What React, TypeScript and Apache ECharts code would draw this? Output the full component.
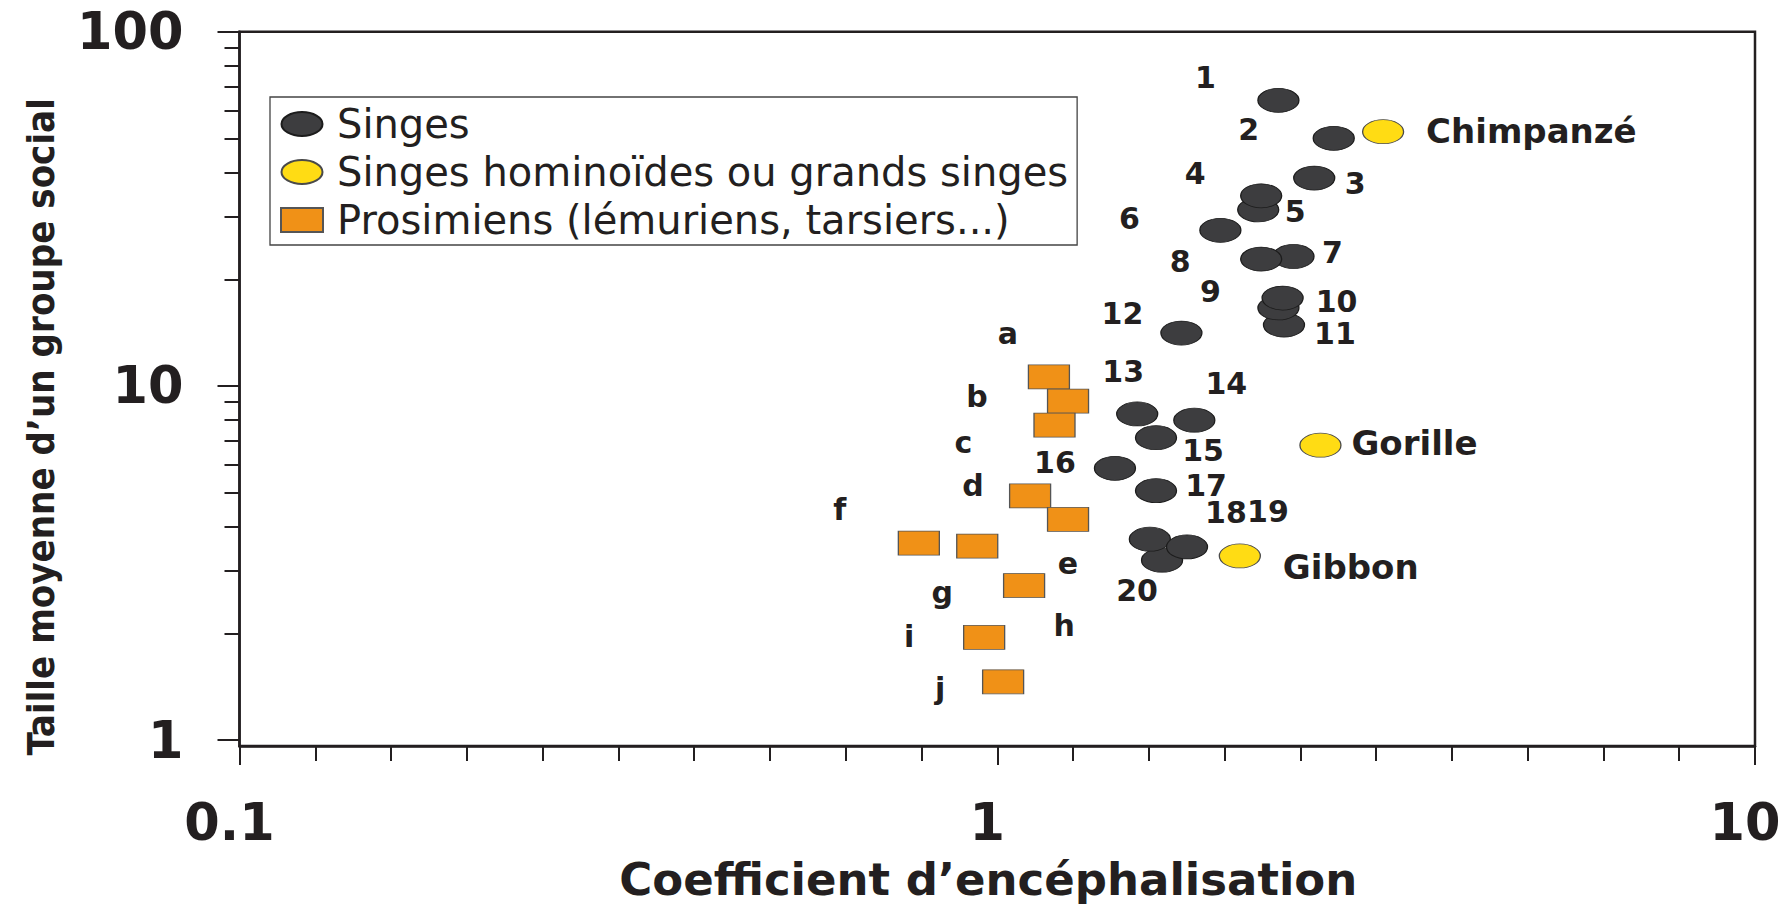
import React, { useEffect, useRef } from 'react';
import * as echarts from 'echarts';

// ---- Data ----
// Singes (monkeys), listed in drawing order
const singesNames = ['1', '2', '3', '5', '4', '6', '7', '8', '11', '9', '10', '12', '13', '14', '15', '16', '17', '20', '18', '19'];
const singesX = [2.35, 2.78, 2.62, 2.21, 2.23, 1.97, 2.46, 2.23, 2.39, 2.35, 2.38, 1.75, 1.53, 1.82, 1.62, 1.43, 1.62, 1.65, 1.59, 1.78];
const singesY = [64, 50, 38.6, 31.4, 34.4, 27.5, 23.2, 22.8, 14.85, 16.6, 17.7, 14.1, 8.33, 8.0, 7.14, 5.85, 5.06, 3.22, 3.69, 3.51];

// Singes hominoïdes ou grands singes (apes)
const apesNames = ['Chimpanzé', 'Gorille', 'Gibbon'];
const apesX = [3.23, 2.67, 2.09];
const apesY = [52.2, 6.8, 3.31];

// Prosimiens
const prosNames = ['a', 'b', 'c', 'd', 'e', 'f', 'g', 'h', 'i', 'j'];
const prosX = [1.17, 1.24, 1.19, 1.105, 1.24, 0.788, 0.941, 1.085, 0.961, 1.018];
const prosY = [10.6, 9.06, 7.75, 4.89, 4.2, 3.6, 3.53, 2.73, 1.95, 1.46];

const seriesNames = ['Singes', 'Singes hominoïdes ou grands singes', 'Prosimiens (lémuriens, tarsiers...)'];

// Axes
const xMin = 0.1;
const xMax = 10;
const yMin = 0.962; // value at the horizontal axis line (slightly below 1)
const yMax = 100;
const xTickValues = [0.1, 1, 10];
const xTickLabels = ['0.1', '1', '10'];
const xMinorStep = 0.1; // in decades
const yTickValues = [1, 10, 100];
const yTickLabels = ['1', '10', '100'];
const yMinorTickValues = [2, 3, 4, 5, 6, 7, 8, 9, 20, 30, 40, 50, 60, 70, 80, 90];
const xTitle = 'Coefficient d’encéphalisation';
const yTitle = 'Taille moyenne d’un groupe social';

// ---- Label layout (pixel offsets of each point label from its marker) ----
const singesLabelOffsets: Record<string, number[]> = {
  '1': [-73, -23], '2': [-85, -9], '3': [41, 5], '4': [-66, -22], '5': [37, 2],
  '6': [-91, -12], '7': [39, -4], '8': [-81, 2], '9': [-68, -16], '10': [54, 3],
  '11': [51, 8], '12': [-59, -20], '13': [-14, -42], '14': [32, -37], '15': [47, 13],
  '16': [-60, -6], '17': [50, -5], '18': [97, -27], '19': [60, -35], '20': [-25, 30],
};
const singesLabelAlign: Record<string, string> = { '18': 'right', '19': 'left' };
const apesLabelOffsets: Record<string, number[]> = {
  'Chimpanzé': [43, -1], 'Gorille': [31, -2], 'Gibbon': [43, 11],
};
const prosLabelOffsets: Record<string, number[]> = {
  a: [-41, -43], b: [-91, -5], c: [-91, 17], d: [-57, -10], e: [0, 44],
  f: [-79, -34], g: [-35, 46], h: [40, 40], i: [-75, -1], j: [-63, 7],
};

const INK = '#231f20';
const FONT = "'DejaVu Sans', sans-serif";
const ELLIPSE = 'path://M0,12A20.5,12,0,1,1,41,12A20.5,12,0,1,1,0,12Z';

function labelFor(offset: number[], align: string, size: number) {
  return {
    show: true,
    position: 'inside',
    offset,
    align,
    verticalAlign: 'middle',
    color: INK,
    opacity: 1,
    fontFamily: FONT,
    fontWeight: 'bold',
    fontSize: size,
    formatter: '{b}',
  };
}

const log10 = (v: number) => Math.log10(v);

export default function App() {
  const ref = useRef<HTMLDivElement>(null);

  useEffect(() => {
    if (!ref.current) return;
    const chart = echarts.init(ref.current, undefined, { renderer: 'svg' });

    const singesData = singesNames.map((n, i) => ({
      name: n,
      value: [singesX[i], singesY[i]],
      label: labelFor(singesLabelOffsets[n], singesLabelAlign[n] || 'center', 30),
    }));
    const apesData = apesNames.map((n, i) => ({
      name: n,
      value: [apesX[i], apesY[i]],
      label: labelFor(apesLabelOffsets[n], 'left', 34),
    }));
    const prosData = prosNames.map((n, i) => ({
      name: n,
      value: [prosX[i], prosY[i]],
      label: labelFor(prosLabelOffsets[n], 'center', 30),
    }));

    const xLabelOf = (v: number) => {
      const k = xTickValues.findIndex((t) => Math.abs(log10(t) - v) < 1e-6);
      return k >= 0 ? xTickLabels[k] : '';
    };
    const yLabelOf = (v: number) => {
      const k = yTickValues.findIndex((t) => Math.abs(log10(t) - v) < 1e-6);
      return k >= 0 ? yTickLabels[k] : '';
    };

    const axisFont = { color: INK, fontFamily: FONT, fontWeight: 'bold', fontSize: 51 };

    chart.setOption({
      animation: false,
      backgroundColor: '#ffffff',
      grid: {
        left: 239.5,
        right: 32,
        top: 31.7,
        bottom: 159,
        show: true,
        borderColor: INK,
        borderWidth: 2.5,
        outerBoundsMode: 'none',
        containLabel: false,
      },
      legend: {
        data: seriesNames,
        orient: 'vertical',
        left: 270,
        top: 97,
        itemWidth: 42,
        itemHeight: 24,
        itemGap: 8,
        padding: [7, 9, 5, 10],
        borderColor: '#444',
        borderWidth: 1.3,
        backgroundColor: '#ffffff',
        textStyle: { color: INK, fontFamily: FONT, fontSize: 40, padding: [0, 0, 0, 9] },
        selectedMode: false,
      },
      xAxis: [
        { type: 'log', logBase: 10, min: xMin, max: xMax, position: 'bottom', show: false },
        {
          type: 'value',
          min: log10(xMin),
          max: log10(xMax),
          position: 'bottom',
          axisLine: { show: true, onZero: false, lineStyle: { color: INK, width: 2.5 } },
          axisTick: { show: true, customValues: xTickValues.map(log10), length: 19, lineStyle: { color: INK, width: 2 } },
          axisLabel: { show: true, customValues: xTickValues.map(log10), formatter: xLabelOf, margin: 51, padding: [0, 20, 0, 0], ...axisFont },
          splitLine: { show: false },
          name: xTitle,
          nameLocation: 'middle',
          nameGap: 111,
          nameMoveOverlap: false,
          nameTextStyle: { color: INK, fontFamily: FONT, fontWeight: 'bold', fontSize: 45, padding: [0, 18, 0, 0] },
        },
        {
          type: 'value',
          min: log10(xMin),
          max: log10(xMax),
          interval: xMinorStep,
          position: 'bottom',
          axisLine: { show: false, onZero: false },
          axisTick: { show: true, length: 15, lineStyle: { color: INK, width: 2 } },
          axisLabel: { show: false },
          splitLine: { show: false },
        },
      ],
      yAxis: [
        { type: 'log', logBase: 10, min: yMin, max: yMax, position: 'left', show: false },
        {
          type: 'value',
          min: log10(yMin),
          max: log10(yMax),
          position: 'left',
          axisLine: { show: true, onZero: false, lineStyle: { color: INK, width: 2.5 } },
          axisTick: { show: true, customValues: yTickValues.map(log10), length: 22, lineStyle: { color: INK, width: 2 } },
          axisLabel: { show: true, customValues: yTickValues.map(log10), formatter: yLabelOf, margin: 56, ...axisFont },
          splitLine: { show: false },
          name: yTitle,
          nameLocation: 'middle',
          nameRotate: 90,
          nameGap: 180,
          nameMoveOverlap: false,
          nameTextStyle: {
            color: INK,
            fontFamily: "'DejaVu Sans Condensed', 'Liberation Sans Narrow', 'DejaVu Sans', sans-serif",
            fontWeight: 'bold',
            fontSize: 38,
            padding: [0, 76, 0, 0],
          },
        },
        {
          type: 'value',
          min: log10(yMin),
          max: log10(yMax),
          position: 'left',
          axisLine: { show: false, onZero: false },
          axisTick: { show: true, customValues: yMinorTickValues.map(log10), length: 15, lineStyle: { color: INK, width: 2 } },
          axisLabel: { show: false },
          splitLine: { show: false },
        },
      ],
      series: [
        {
          name: seriesNames[0],
          type: 'scatter',
          xAxisIndex: 0,
          yAxisIndex: 0,
          symbol: ELLIPSE,
          symbolSize: [41, 24],
          itemStyle: { color: '#3d3d3f', borderColor: '#1c1c1c', borderWidth: 1, opacity: 1 },
          data: singesData,
        },
        {
          name: seriesNames[1],
          type: 'scatter',
          xAxisIndex: 0,
          yAxisIndex: 0,
          symbol: ELLIPSE,
          symbolSize: [41, 24],
          itemStyle: { color: '#ffdc14', borderColor: '#4a4a4a', borderWidth: 1, opacity: 1 },
          data: apesData,
        },
        {
          name: seriesNames[2],
          type: 'scatter',
          xAxisIndex: 0,
          yAxisIndex: 0,
          symbol: 'rect',
          symbolSize: [41, 24],
          itemStyle: { color: '#f09117', borderColor: '#555555', borderWidth: 1, opacity: 1 },
          data: prosData,
        },
      ],
    });

    return () => chart.dispose();
  }, []);

  return (
    <div
      ref={ref}
      style={{ position: 'fixed', left: 0, top: 0, width: 1787, height: 905, background: '#ffffff' }}
    />
  );
}
